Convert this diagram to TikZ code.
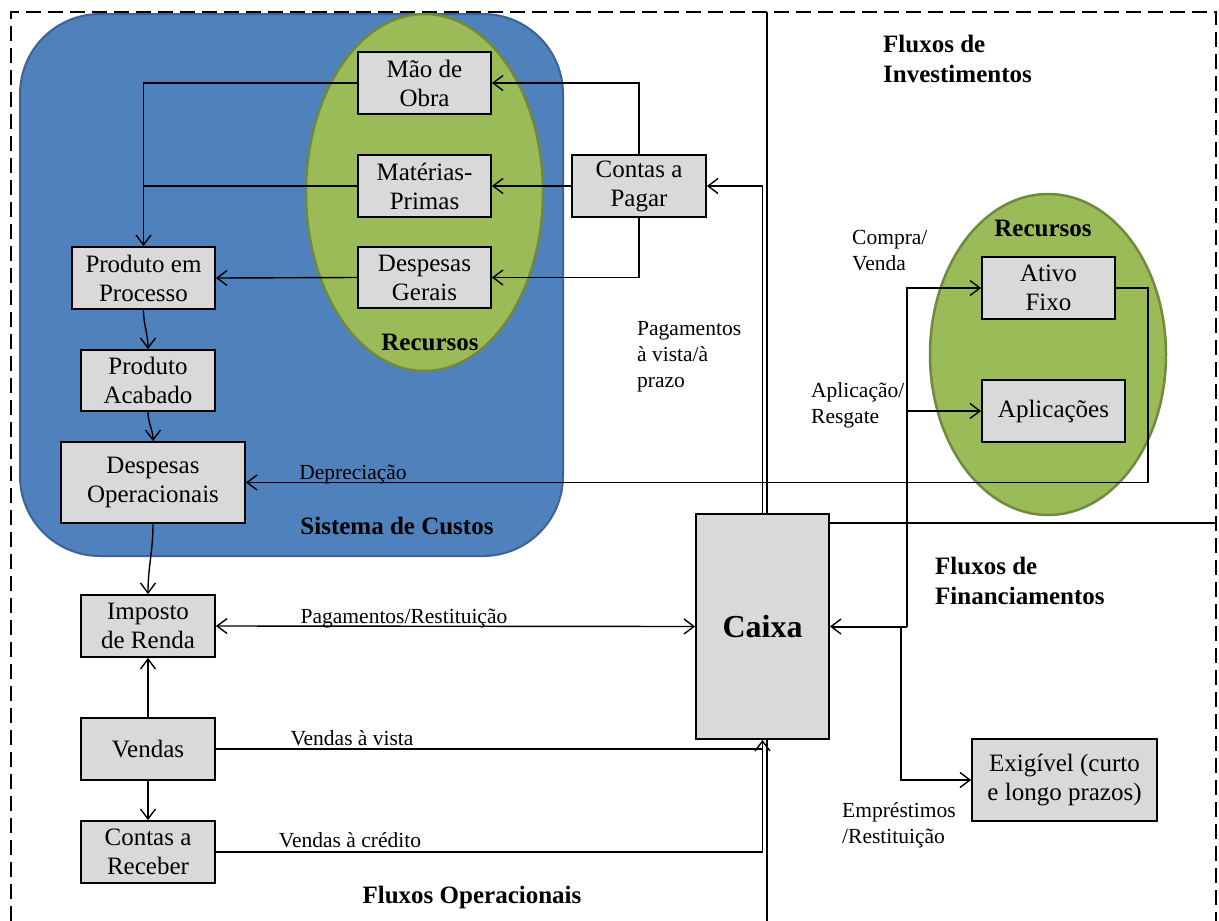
\documentclass[tikz,border=0pt]{standalone}
\usepackage{fontspec}
\setmainfont{Liberation Serif}
\usetikzlibrary{arrows.meta,shapes.geometric,calc}
\definecolor{boxgray}{HTML}{D9D9D9}
\definecolor{cblue}{HTML}{4F81BD}
\definecolor{cblueb}{HTML}{3A6396}
\definecolor{cgreen}{HTML}{9BBB59}
\definecolor{cgreenb}{HTML}{71893F}
\tikzset{
  box/.style={draw=black, line width=1.8pt, fill=boxgray, inner sep=0pt, align=center,
    font=\fontsize{25}{29}\selectfont},
  conn/.style={line width=1.4pt, draw=black},
  tip/.tip={Straight Barb[length=10pt,width=15pt,line width=1.4pt]},
  arr/.style={-tip},
  lbl/.style={font=\fontsize{21.5}{26}\selectfont, inner sep=0pt, align=left},
  ttl/.style={font=\fontsize{25}{30}\selectfont\bfseries, inner sep=0pt, align=left},
  sep/.style={line width=1.8pt, draw=black},
  bord/.style={line width=2.2pt, draw=black, dash pattern=on 15pt off 7pt},
}
\begin{document}
\begin{tikzpicture}[x=1pt,y=-1pt]
\useasboundingbox (0,0) rectangle (1219,921);
% outer dashed frame
\draw[bord] (11,921) -- (11,12) -- (1216,12) -- (1216,921);
% separators
\draw[sep] (767,12) -- (767,514);
\draw[sep] (767,739) -- (767,921);
\draw[sep] (830,523) -- (1216,523);
% cost system
\draw[fill=cblue, draw=cblueb, line width=2pt, rounded corners=80pt] (20,14) rectangle (563,556);
\node[ellipse, draw=cgreenb, fill=cgreen, line width=2.5pt, inner sep=0pt,
  minimum width=237pt, minimum height=357pt] (ellL) at (424.5,192.5) {};
\node[ellipse, draw=cgreenb, fill=cgreen, line width=2.5pt, inner sep=0pt,
  minimum width=236pt, minimum height=321pt] (ellR) at (1048,354.5) {};
% boxes
\node[box, minimum width=133pt, minimum height=62pt] (mao) at (424.5,83) {Mão de\\Obra};
\node[box, minimum width=133pt, minimum height=62pt] (mat) at (424.5,186) {Matérias-\\Primas};
\node[box, minimum width=133pt, minimum height=61pt] (desg) at (424.5,277.5) {Despesas\\Gerais};
\node[box, minimum width=134pt, minimum height=62pt] (cpag) at (639,186) {Contas a\\Pagar};
\node[box, minimum width=143pt, minimum height=62pt] (pproc) at (143.5,278) {Produto em\\Processo};
\node[box, minimum width=134pt, minimum height=61pt] (pacab) at (148,380.5) {Produto\\Acabado};
\node[box, minimum width=184pt, minimum height=81pt] (dop) at (153,482.5) {Despesas\\Operacionais};
\node[box, minimum width=134pt, minimum height=62pt] (ir) at (148,626) {Imposto\\de Renda};
\node[box, minimum width=134pt, minimum height=62pt] (vend) at (148,749) {Vendas};
\node[box, minimum width=134pt, minimum height=62pt] (crec) at (148,852) {Contas a\\Receber};
\node[box, minimum width=133pt, minimum height=225pt, font=\fontsize{32}{38}\selectfont\bfseries] (caixa) at (762.5,626.5) {Caixa};
\node[box, minimum width=133pt, minimum height=62pt] (ativo) at (1048.5,288) {Ativo\\Fixo};
\node[box, minimum width=143pt, minimum height=62pt] (aplic) at (1053.5,411) {Aplicações};
\node[box, minimum width=185pt, minimum height=82pt] (exig) at (1064.5,780) {Exigível (curto\\e longo prazos)};
% titles and labels (multi-line nodes: base = last line)
\node[ttl, anchor=base] (recL) at (430,350) {Recursos};
\node[ttl, anchor=base] (recR) at (1043,236) {Recursos};
\node[ttl, anchor=base] (sist) at (397,534) {Sistema de Custos};
\node[ttl, anchor=base] (fop) at (472,903) {Fluxos Operacionais};
\node[ttl, anchor=base west] (finv) at (883,82) {Fluxos de\\Investimentos};
\node[ttl, anchor=base west] (ffin) at (935,604) {Fluxos de\\Financiamentos};
\node[lbl, anchor=base west] (lpag) at (637,387) {Pagamentos\\à vista/à\\prazo};
\node[lbl, anchor=base west] (lcomp) at (852,270) {Compra/\\Venda};
\node[lbl, anchor=base west] (lapl) at (811,423) {Aplicação/\\Resgate};
\node[lbl, anchor=base west] (lemp) at (842,843) {Empréstimos\\/Restituição};
\node[lbl, anchor=base] (ldep) at (353,479) {Depreciação};
\node[lbl, anchor=base] (lpr) at (404,623) {Pagamentos/Restituição};
\node[lbl, anchor=base] (lvv) at (352,745) {Vendas à vista};
\node[lbl, anchor=base] (lvc) at (350,847) {Vendas à crédito};
% connectors: accounts payable to resources
\draw[conn,arr] (cpag.north) |- (mao.east);
\draw[conn,arr] (cpag.west) -- (mat.east);
\draw[conn,arr] (cpag.south) |- (desg.east);
% resources to product in process
\draw[conn,arr] (mao.west) -| (pproc.north);
\draw[conn] (mat.west) -- (mat.west -| pproc.north);
\draw[conn,arr] (desg.west) -- (pproc.east);
% production chain
\draw[conn,arr] (pproc.south) to[out=-90,in=90] (pacab.north);
\draw[conn,arr] (pacab.south) to[out=-90,in=90] (dop.north);
\draw[conn,arr] (dop.south) to[out=-90,in=90] (ir.north);
\draw[conn,arr] (vend.north) -- (ir.south);
\draw[conn,arr] (vend.south) -- (crec.north);
% operational flows to cash
\draw[conn,tip-tip] (ir.east) -- (caixa.west);
\draw[conn] (vend.east) -- (vend.east -| caixa.south);
\draw[conn,arr] (crec.east) -| (caixa.south);
\draw[conn,arr] (caixa.north) |- (cpag.east);
% depreciation
\draw[conn,arr] (ativo.east) -- ++(32,0) |- (dop.east);
% investments and financing
\coordinate (jn) at ($(caixa.east)+(77,0)$);
\coordinate (jf) at ($(caixa.east)+(71,0)$);
\draw[conn,line width=2pt,arr] (jn) -- (caixa.east);
\draw[conn,arr] (jn) |- (ativo.west);
\draw[conn,arr] (jn |- aplic.west) -- (aplic.west);
\draw[conn,arr] (jf) |- (exig.west);
\end{tikzpicture}
\end{document}
